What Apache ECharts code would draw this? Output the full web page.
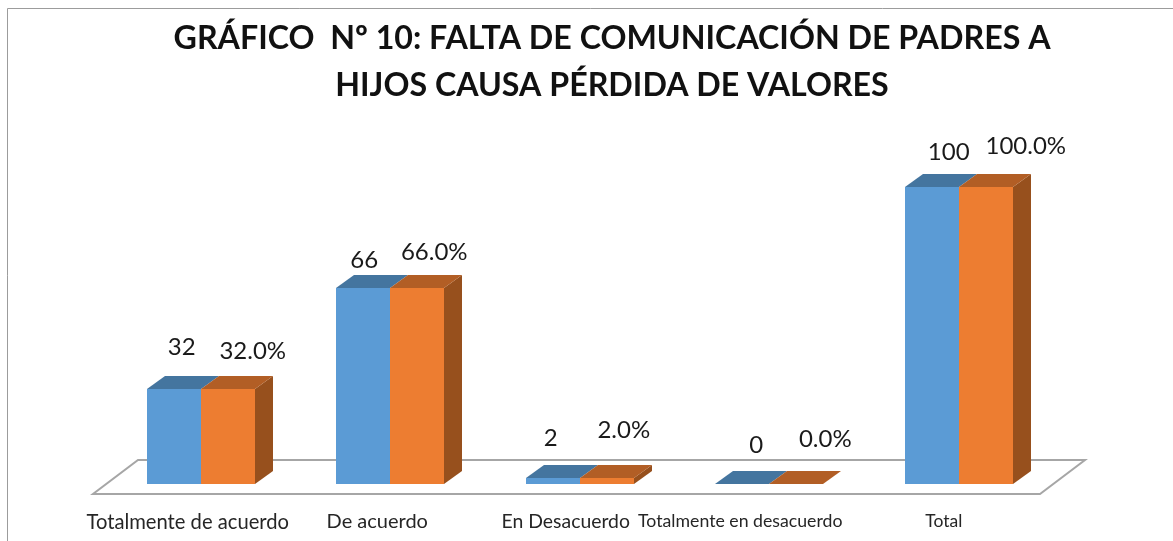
<!DOCTYPE html>
<html>
<head>
<meta charset="utf-8">
<style>html,body{margin:0;padding:0;background:#fff}#c{width:1173px;height:541px}</style>
<script src="https://cdn.jsdelivr.net/npm/echarts@6/dist/echarts.min.js"></script>
</head>
<body>
<div id="c"></div>
<script>
const categories = ['Totalmente de acuerdo', 'De acuerdo', 'En Desacuerdo', 'Totalmente en desacuerdo', 'Total'];
const frecuencia = [32, 66, 2, 0, 100];
const porcentaje = [32, 66, 2, 0, 100];
const titleText = 'GRÁFICO  Nº 10: FALTA DE COMUNICACIÓN DE PADRES A\nHIJOS CAUSA PÉRDIDA DE VALORES';

// hand-placed label nudges of the original, relative to the bar's top-centre
const countNudge = [[-19, -42], [-26, -28], [-29, -40], [-13, -39], [-10, -35]];
const pctNudge = [[52, -38], [44, -36], [44, -48], [56, -45], [67, -41]];
const axisNudge = [-13, -13, -14, -29, -15];
const axisFontSize = [20.2, 20, 19.4, 17.7, 17.5];

const DEPTH_X = 18, DEPTH_Y = 13;
const shade = {
  blue: {front: '#5b9bd5', top: '#44759f', side: '#3e6f9c'},
  orange: {front: '#ed7d31', top: '#b25e25', side: '#97501d'}
};
const font = 'Lato, Carlito, "Open Sans", sans-serif';

function boxRenderer(col, side, labelFn, nudge) {
  return function (params, api) {
    const i = api.value(0), v = api.value(1);
    const band = api.size([1, 0])[0];
    const base = api.coord([i, 0]);
    const top = api.coord([i, v]);
    const w = band * 0.285;
    const mid = Math.round(base[0]);
    const x0 = side < 0 ? Math.round(base[0] - w) : mid;
    const x1 = side < 0 ? mid : Math.round(base[0] + w);
    const b = base[1], t = top[1];
    const kids = [];
    if (side > 0 && t < b) {
      kids.push({type: 'polygon', shape: {points: [[x1, t], [x1 + DEPTH_X, t - DEPTH_Y], [x1 + DEPTH_X, b - DEPTH_Y], [x1, b]]}, style: {fill: col.side}});
    }
    kids.push({type: 'polygon', shape: {points: [[x0, t], [x0 + DEPTH_X, t - DEPTH_Y], [x1 + DEPTH_X, t - DEPTH_Y], [x1, t]]}, style: {fill: col.top}});
    if (t < b) kids.push({type: 'rect', shape: {x: x0, y: t, width: x1 - x0, height: b - t}, style: {fill: col.front}});
    const n = nudge[i];
    kids.push({type: 'text', x: base[0] + n[0], y: t + n[1], style: {text: labelFn(v), font: '24px ' + font, fill: '#1a1a1a', align: 'center', verticalAlign: 'middle'}});
    return {type: 'group', children: kids};
  };
}

function floorRenderer(params, api) {
  const cs = params.coordSys;
  const y = cs.y + cs.height;
  const left = cs.x - 13, right = cs.x + cs.width - 13.5;
  return {type: 'polygon', shape: {points: [[left, y + 10], [right, y + 10], [right + 45, y - 24], [left + 45, y - 24]]},
    style: {fill: '#fff', stroke: '#a6a6a6', lineWidth: 2}, silent: true};
}

const chart = echarts.init(document.getElementById('c'), null, {renderer: 'canvas'});
chart.setOption({
  animation: false,
  backgroundColor: '#fff',
  graphic: [{type: 'rect', silent: true, z: -1, shape: {x: 7.5, y: 8.5, width: 1300, height: 700},
    style: {fill: 'none', stroke: '#9c9c9c', lineWidth: 1}}],
  title: {
    text: titleText, left: 607, top: 10, textAlign: 'center',
    textStyle: {fontFamily: font, fontSize: 32.2, fontWeight: 'bold', color: '#111', lineHeight: 47}
  },
  grid: {left: 106, top: 187, width: 947.5, height: 297, containLabel: false},
  xAxis: {
    type: 'category',
    data: categories.map((c, i) => ({
      value: c,
      textStyle: {fontSize: axisFontSize[i], padding: [0, -2 * axisNudge[i], 0, 0]}
    })),
    axisLine: {show: false}, axisTick: {show: false},
    axisLabel: {interval: 0, margin: 28, fontFamily: font, color: '#262626', hideOverlap: false}
  },
  yAxis: {type: 'value', min: 0, max: 100, show: false},
  series: [
    {type: 'custom', name: 'floor', renderItem: floorRenderer, data: [[0, 0]], z: 1, silent: true},
    {type: 'custom', name: 'Frecuencia', renderItem: boxRenderer(shade.blue, -1, v => String(v), countNudge),
      data: frecuencia.map((v, i) => [i, v]), encode: {x: 0, y: 1}, z: 3},
    {type: 'custom', name: 'Porcentaje', renderItem: boxRenderer(shade.orange, 1, v => v.toFixed(1) + '%', pctNudge),
      data: porcentaje.map((v, i) => [i, v]), encode: {x: 0, y: 1}, z: 4}
  ]
});
</script>
</body>
</html>
